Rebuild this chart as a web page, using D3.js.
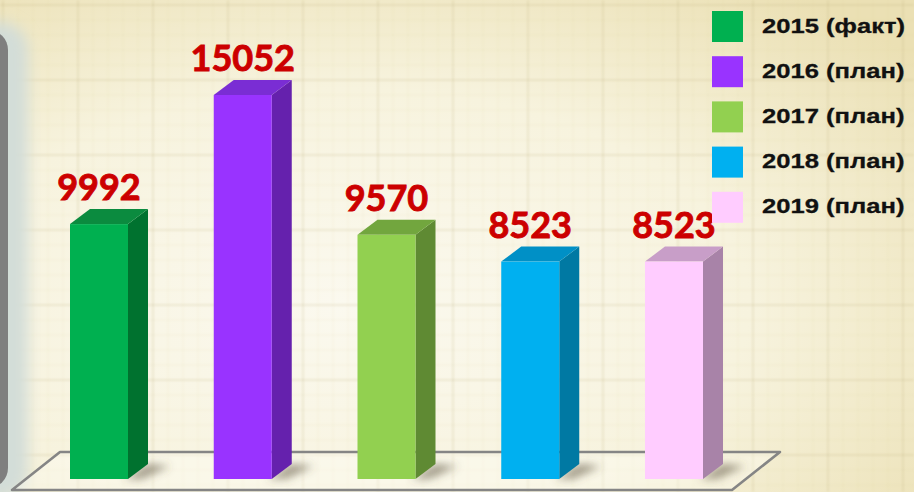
<!DOCTYPE html>
<html>
<head>
<meta charset="utf-8">
<script src="https://cdn.jsdelivr.net/npm/d3@7"></script>
<style>
  html, body { margin: 0; padding: 0; background: #f7f3df; }
  svg { display: block; }
</style>
</head>
<body>
<svg id="chart" width="914" height="492"></svg>
<script>
// Values per year
const categories = ["2015 (факт)", "2016 (план)", "2017 (план)", "2018 (план)", "2019 (план)"];
const values = [9992, 15052, 9570, 8523, 8523];
const frontColors = ["#00b050", "#9933ff", "#92d050", "#00b0f0", "#ffccff"];
const topColors   = ["#0b8b3f", "#7a2dd4", "#72a63e", "#0090c6", "#c89ec8"];
const sideColors  = ["#00722f", "#6521ad", "#5f8a33", "#0079a3", "#a883a8"];

const W = 914, H = 492;
const svg = d3.select("#chart");
const defs = svg.append("defs");

// Paper background
const bg = defs.append("radialGradient").attr("id", "paper")
  .attr("cx", "38%").attr("cy", "62%").attr("r", "80%");
bg.append("stop").attr("offset", "0%").attr("stop-color", "#fbf9ef");
bg.append("stop").attr("offset", "55%").attr("stop-color", "#f7f3de");
bg.append("stop").attr("offset", "100%").attr("stop-color", "#ebe0b4");
svg.append("rect").attr("width", W).attr("height", H).attr("fill", "url(#paper)");

defs.append("filter").attr("id", "soft")
  .append("feGaussianBlur").attr("stdDeviation", 0.8);
defs.append("filter").attr("id", "blur4").attr("x", "-50%").attr("y", "-50%").attr("width", "200%").attr("height", "200%")
  .append("feGaussianBlur").attr("stdDeviation", 4);
defs.append("filter").attr("id", "blur8").attr("x", "-100%").attr("y", "-20%").attr("width", "300%").attr("height", "140%")
  .append("feGaussianBlur").attr("stdDeviation", 7);

// Graph-paper grid
const grid = svg.append("g").attr("filter", "url(#soft)");
d3.range(0, W + 15, 15).forEach((x, i) => {
  grid.append("line").attr("x1", x + 3).attr("x2", x + 3).attr("y1", 0).attr("y2", H)
    .attr("stroke", i % 5 === 0 ? "rgba(190,175,125,0.2)" : "rgba(200,188,140,0.13)")
    .attr("stroke-width", i % 5 === 0 ? 2 : 1);
});
d3.range(0, H + 15, 15).forEach((y, i) => {
  grid.append("line").attr("y1", y + 5).attr("y2", y + 5).attr("x1", 0).attr("x2", W)
    .attr("stroke", i % 5 === 0 ? "rgba(190,175,125,0.2)" : "rgba(200,188,140,0.13)")
    .attr("stroke-width", i % 5 === 0 ? 2 : 1);
});

// Side panel with a pale glow
svg.append("rect").attr("x", -60).attr("y", 22).attr("width", 88).attr("height", 478).attr("rx", 28)
  .attr("fill", "#d3ddd8").attr("filter", "url(#blur8)");
svg.append("rect").attr("x", -60).attr("y", 30).attr("width", 68).attr("height", 458).attr("rx", 20)
  .attr("fill", "#7f7f7f");

// Scales
const x = d3.scaleBand().domain(categories).range([70, 703]).paddingInner(0.5965).paddingOuter(0);
const y = d3.scaleLinear().domain([0, d3.max(values)]).range([479, 95]);
const dx = 20, dy = 15;
const base = y(0);

// Floor
const floor = [[60, 452], [780, 452], [732, 490], [12, 490]];
svg.append("path").attr("d", d3.line()(floor) + "Z")
  .attr("fill", "rgba(255,255,248,0.35)")
  .attr("stroke", "#858585").attr("stroke-width", 2.6).attr("stroke-linejoin", "round");

const data = categories.map((c, i) => ({ c, v: values[i], i }));

// Shadows cast on the floor
svg.append("g").selectAll("path").data(data).join("path")
  .attr("d", d => {
    const x1 = x(d.c) + x.bandwidth();
    return d3.line()([[x1 - 4, base], [x1 + dx, base - dy], [x1 + dx + 22, base - dy + 2], [x1 + 14, base]]) + "Z";
  })
  .attr("fill", "rgba(90,80,60,0.55)").attr("filter", "url(#blur4)");

// Bars
const bars = svg.append("g").selectAll("g").data(data).join("g");
bars.append("path") // side face
  .attr("d", d => {
    const x1 = x(d.c) + x.bandwidth(), yt = y(d.v);
    return d3.line()([[x1, yt], [x1 + dx, yt - dy], [x1 + dx, base - dy], [x1, base]]) + "Z";
  })
  .attr("fill", d => sideColors[d.i]);
bars.append("path") // top face
  .attr("d", d => {
    const x0 = x(d.c), x1 = x0 + x.bandwidth(), yt = y(d.v);
    return d3.line()([[x0, yt], [x0 + dx, yt - dy], [x1 + dx, yt - dy], [x1, yt]]) + "Z";
  })
  .attr("fill", d => topColors[d.i]);
bars.append("rect") // front face
  .attr("x", d => x(d.c)).attr("y", d => y(d.v))
  .attr("width", x.bandwidth()).attr("height", d => base - y(d.v))
  .attr("fill", d => frontColors[d.i]);

// Value labels
svg.append("g").selectAll("text").data(data).join("text")
  .attr("x", d => x(d.c) + x.bandwidth() / 2)
  .attr("y", d => y(d.v) - 24)
  .attr("text-anchor", "middle")
  .attr("font-family", "Lato, 'Open Sans', sans-serif")
  .attr("font-weight", 700).attr("font-size", 36)
  .attr("fill", "#cc0000")
  .attr("stroke", "#cc0000").attr("stroke-width", 0.9)
  .text(d => d.v);

// Legend
const legend = svg.append("g").selectAll("g").data(data).join("g")
  .attr("transform", d => `translate(712,${11 + d.i * 45.2})`);
legend.append("rect").attr("width", 31).attr("height", 31).attr("fill", d => frontColors[d.i]);
legend.append("text")
  .attr("transform", "translate(50,21.5) scale(1.22,1)")
  .attr("font-family", "'Liberation Sans', Arial, sans-serif")
  .attr("font-weight", 700).attr("font-size", 21)
  .attr("fill", "#111")
  .attr("stroke", "#111").attr("stroke-width", 0.3)
  .text(d => d.c);
</script>
</body>
</html>
